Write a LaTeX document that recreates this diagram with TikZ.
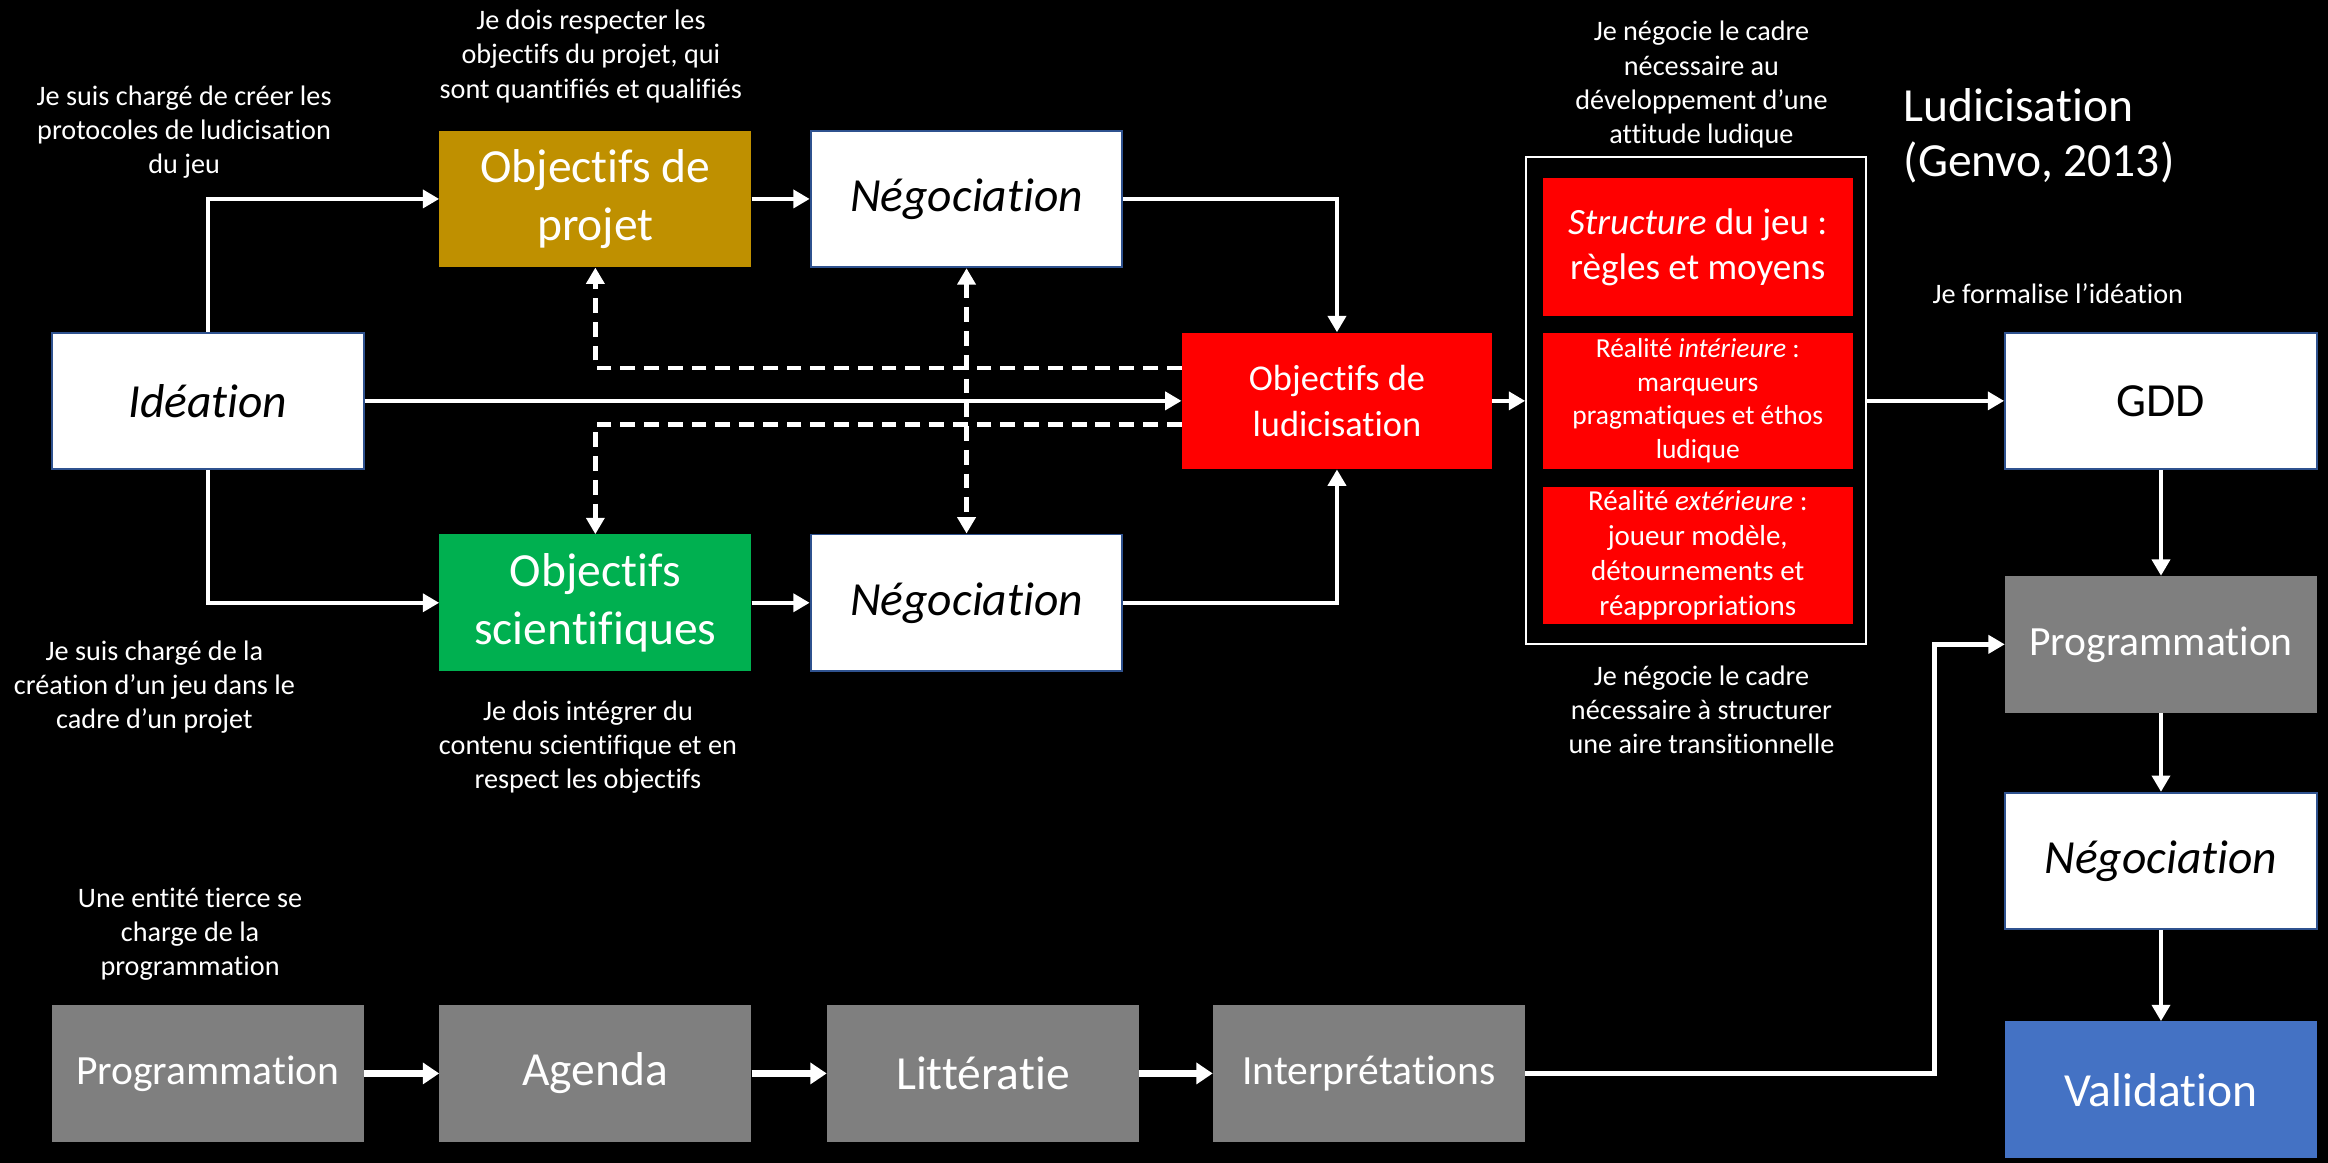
\documentclass[tikz,border=0pt]{standalone}
\usepackage{fontspec}
\setmainfont{Carlito}[Ligatures=NoCommon]
\usetikzlibrary{arrows.meta}
\definecolor{gold}{HTML}{BF9000}
\definecolor{sci}{HTML}{00B050}
\definecolor{ludred}{HTML}{FF0000}
\definecolor{greybox}{HTML}{7F7F7F}
\definecolor{valblue}{HTML}{4472C4}
\definecolor{boxedge}{HTML}{2F528F}
\tikzset{
  box/.style={rectangle, minimum width=210pt, minimum height=92pt, inner sep=2pt,
    align=center, font=\fontsize{32}{39}\selectfont},
  whitebox/.style={box, fill=white, draw=boxedge, line width=1.3pt, text=black},
  colbox/.style={box, fill=#1, text=white},
  redbox/.style={rectangle, fill=ludred, text=white, minimum width=209pt, inner sep=2pt, align=center},
  note/.style={text=white, align=center, font=\fontsize{19}{23}\selectfont},
  tip/.style={-{Triangle[length=11pt,width=12pt]}},
  conn/.style={draw=white, line width=3pt, tip},
  thickconn/.style={draw=white, line width=4.5pt, -{Triangle[length=11pt,width=14pt]}},
  dashconn/.style={draw=white, line width=3pt, dash pattern=on 10pt off 6pt, tip},
}
\begin{document}
\begin{tikzpicture}[x=1pt,y=-1pt]
\useasboundingbox (0,0) rectangle (1568,783);
\fill[black] (0,0) rectangle (1568,783);

% main column of boxes
\node[whitebox] (idea) at (140,270) {\itshape Idéation};
\node[colbox=gold] (objp) at (401,134) {Objectifs de\\projet};
\node[whitebox] (nego1) at (651,134) {\itshape Négociation};
\node[colbox=sci] (objs) at (401,406) {Objectifs\\scientifiques};
\node[whitebox] (nego2) at (651,406) {\itshape Négociation};
\node[colbox=ludred, minimum width=209pt, font=\fontsize{24.5}{31}\selectfont] (objl) at (900.5,270) {Objectifs de\\ludicisation};

% frame with the three components
\node[draw=white, line width=1.5pt, minimum width=229pt, minimum height=328pt, inner sep=0pt] (frame) at (1142.5,270) {};
\node[redbox, minimum height=93pt, font=\fontsize{25}{30.5}\selectfont] (r1) at (1143.5,166.5) {\textit{Structure} du jeu :\\règles et moyens};
\node[redbox, minimum height=92pt, font=\fontsize{18.5}{22.6}\selectfont] (r2) at (1143.5,270) {Réalité \textit{intérieure} :\\marqueurs\\pragmatiques et éthos\\ludique};
\node[redbox, minimum height=92pt, font=\fontsize{19.5}{23.5}\selectfont] (r3) at (1143.5,374) {Réalité \textit{extérieure} :\\joueur modèle,\\détournements et\\réappropriations};

% right column
\node[whitebox] (gdd) at (1455.5,270) {GDD};
\node[colbox=greybox, font=\fontsize{28}{34}\selectfont] (prog2) at (1455.5,434) {Programmation};
\node[whitebox] (nego3) at (1455.5,580) {\itshape Négociation};
\node[colbox=valblue] (valid) at (1455.5,734) {Validation};

% bottom row
\node[colbox=greybox, font=\fontsize{28}{34}\selectfont] (prog1) at (140,723) {Programmation};
\node[colbox=greybox] (agenda) at (401,723) {Agenda};
\node[colbox=greybox] (litt) at (662,723) {Littératie};
\node[colbox=greybox, font=\fontsize{28}{34}\selectfont] (interp) at (922,723) {Interprétations};

% annotations
\node[note] (n1) at (124,89) {Je suis chargé de créer les\\protocoles de ludicisation\\du jeu};
\node[note] (n2) at (398,38) {Je dois respecter les\\objectifs du projet, qui\\sont quantifiés et qualifiés};
\node[note] (n3) at (1146,57) {Je négocie le cadre\\nécessaire au\\développement d’une\\attitude ludique};
\node[note] (n4) at (1146,478) {Je négocie le cadre\\nécessaire à structurer\\une aire transitionnelle};
\node[note] (n5) at (1386,198) {Je formalise l’idéation};
\node[note] (n6) at (104,463) {Je suis chargé de la\\création d’un jeu dans le\\cadre d’un projet};
\node[note] (n7) at (396,503) {Je dois intégrer du\\contenu scientifique et en\\respect les objectifs};
\node[note] (n8) at (128,629) {Une entité tierce se\\charge de la\\programmation};
\node[text=white, anchor=west, align=left, inner sep=0pt, font=\fontsize{32}{37}\selectfont] (title) at (1282,91.5) {Ludicisation\\(Genvo, 2013)};

% connectors
\draw[conn] (idea.north) |- (objp.west);
\draw[conn] (idea.south) |- (objs.west);
\draw[conn] (idea.east) -- (objl.west);
\draw[conn] (objp.east) -- (nego1.west);
\draw[conn] (objs.east) -- (nego2.west);
\draw[conn] (nego1.east) -| (objl.north);
\draw[conn] (nego2.east) -| (objl.south);
\draw[dashconn] ([yshift=22pt]objl.west) -| (objp.south);
\draw[dashconn] ([yshift=-16pt]objl.west) -| (objs.north);
\draw[dashconn, {Triangle[length=11pt,width=12pt]}-{Triangle[length=11pt,width=12pt]}] (nego1.south) -- (nego2.north);
\draw[conn] (objl.east) -- (frame.west);
\draw[conn] (frame.east) -- (gdd.west);
\draw[conn] (gdd.south) -- (prog2.north);
\draw[conn] (prog2.south) -- (nego3.north);
\draw[conn] (nego3.south) -- (valid.north);
\draw[thickconn] (prog1.east) -- (agenda.west);
\draw[thickconn] (agenda.east) -- (litt.west);
\draw[thickconn] (litt.east) -- (interp.west);
\coordinate (bend) at (1303,723);
\draw[conn] (interp.east) -- (bend) |- (prog2.west);
\end{tikzpicture}
\end{document}
